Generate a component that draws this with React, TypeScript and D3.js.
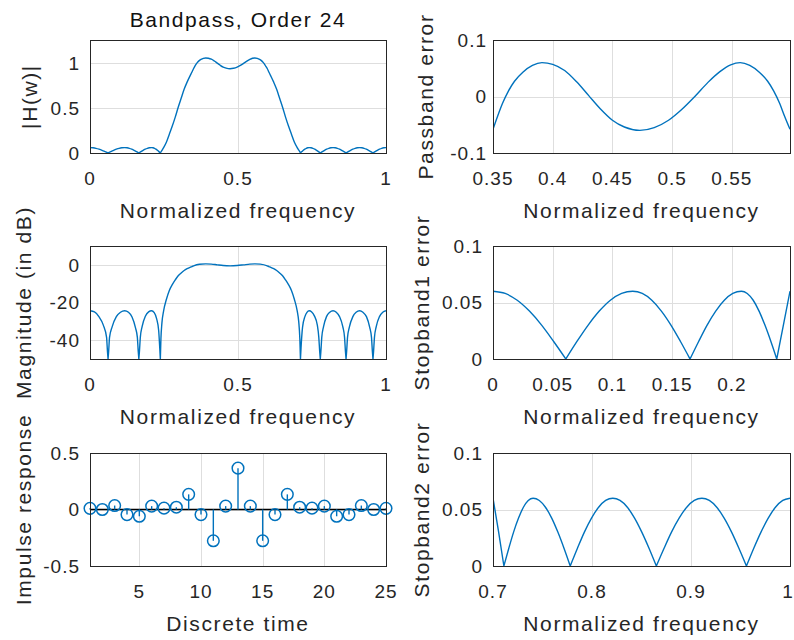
import * as d3 from "d3";

// impulse response (stem plot)
const impulseN = [1, 2, 3, 4, 5, 6, 7, 8, 9, 10, 11, 12, 13, 14, 15, 16, 17, 18, 19, 20, 21, 22, 23, 24, 25];
const impulseH = [0.01, 0.0, 0.035, -0.045, -0.06, 0.03, 0.012, 0.02, 0.134, -0.045, -0.277, 0.03, 0.366, 0.03, -0.277, -0.045, 0.134, 0.02, 0.012, 0.03, -0.06, -0.045, 0.035, 0.0, 0.01];

// stopband 1 error |H|
const stop1Freq = [0, 0.0102, 0.0203, 0.0305, 0.0407, 0.0508, 0.061, 0.0703, 0.0797, 0.089, 0.0983, 0.1077, 0.117, 0.125, 0.133, 0.141, 0.149, 0.157, 0.165, 0.1722, 0.1793, 0.1865, 0.1937, 0.2008, 0.208, 0.2129, 0.2179, 0.2228, 0.2277, 0.2327, 0.2376, 0.243, 0.2487];
const stop1Err = [0.06, 0.058, 0.052, 0.0424, 0.03, 0.0155, 0, 0.0155, 0.03, 0.0424, 0.052, 0.058, 0.06, 0.058, 0.052, 0.0424, 0.03, 0.0155, 0, 0.0155, 0.03, 0.0424, 0.052, 0.058, 0.06, 0.058, 0.052, 0.0424, 0.03, 0.0155, 0, 0.029, 0.06];

// passband error |H| - 1
const passFreq = [0.35, 0.354, 0.358, 0.363, 0.368, 0.375, 0.383, 0.391, 0.4, 0.41, 0.42, 0.43, 0.44, 0.45, 0.46, 0.473, 0.485, 0.497, 0.508, 0.519, 0.53, 0.54, 0.549, 0.557, 0.565, 0.573, 0.58, 0.585, 0.59, 0.594, 0.5987];
const passErr = [-0.058, -0.034, -0.012, 0.01, 0.027, 0.043, 0.055, 0.06, 0.057, 0.046, 0.026, 0.002, -0.022, -0.042, -0.054, -0.06, -0.055, -0.042, -0.023, 0, 0.025, 0.044, 0.056, 0.06, 0.055, 0.043, 0.027, 0.01, -0.012, -0.034, -0.058];

// stopband 2 error |H|
const stop2Freq = [0.7, 0.7055, 0.711, 0.7159, 0.7208, 0.7258, 0.7307, 0.7356, 0.7405, 0.7468, 0.753, 0.7593, 0.7655, 0.7718, 0.778, 0.7852, 0.7923, 0.7995, 0.8067, 0.8138, 0.821, 0.8283, 0.8357, 0.843, 0.8503, 0.8577, 0.865, 0.8727, 0.8803, 0.888, 0.8957, 0.9033, 0.911, 0.9185, 0.926, 0.9335, 0.941, 0.9485, 0.956, 0.9633, 0.9707, 0.978, 0.9853, 0.9927, 1.0];
const stop2Err = [0.06, 0.031, 0, 0.0155, 0.03, 0.0424, 0.052, 0.058, 0.06, 0.058, 0.052, 0.0424, 0.03, 0.0155, 0, 0.0155, 0.03, 0.0424, 0.052, 0.058, 0.06, 0.058, 0.052, 0.0424, 0.03, 0.0155, 0, 0.0155, 0.03, 0.0424, 0.052, 0.058, 0.06, 0.058, 0.052, 0.0424, 0.03, 0.0155, 0, 0.0155, 0.03, 0.0424, 0.052, 0.058, 0.06];

// transition bands |H|
const riseFreq = [0.258, 0.268, 0.278, 0.288, 0.298, 0.308, 0.318, 0.328, 0.338, 0.344];
const riseMag = [0.12, 0.21, 0.3, 0.4, 0.51, 0.61, 0.71, 0.79, 0.86, 0.9];
const fallFreq = [0.6046, 0.6106, 0.6206, 0.6306, 0.6406, 0.6506, 0.6606, 0.6706, 0.6806, 0.6906];
const fallMag = [0.9, 0.86, 0.79, 0.71, 0.61, 0.51, 0.4, 0.3, 0.21, 0.12];

// magnitude in dB
const dbFreq = [0, 0.015, 0.03, 0.045, 0.056, 0.059, 0.061, 0.063, 0.066, 0.075, 0.089, 0.103, 0.117, 0.13, 0.142, 0.154, 0.16, 0.163, 0.165, 0.167, 0.17, 0.176, 0.187, 0.198, 0.208, 0.217, 0.225, 0.232, 0.2356, 0.2376, 0.2396, 0.243, 0.2487, 0.258, 0.268, 0.278, 0.288, 0.298, 0.308, 0.318, 0.328, 0.338, 0.344, 0.35, 0.37, 0.391, 0.41, 0.43, 0.45, 0.473, 0.497, 0.519, 0.54, 0.557, 0.575, 0.5987, 0.6046, 0.6106, 0.6206, 0.6306, 0.6406, 0.6506, 0.6606, 0.6706, 0.6806, 0.6906, 0.7, 0.705, 0.709, 0.711, 0.713, 0.718, 0.726, 0.733, 0.7405, 0.749, 0.758, 0.768, 0.773, 0.776, 0.778, 0.78, 0.783, 0.789, 0.799, 0.81, 0.821, 0.832, 0.843, 0.854, 0.86, 0.863, 0.865, 0.867, 0.87, 0.876, 0.888, 0.899, 0.911, 0.922, 0.934, 0.945, 0.951, 0.954, 0.956, 0.958, 0.961, 0.967, 0.978, 0.989, 1.0];
const dbVals = [-24.4, -25.0, -27.5, -32.0, -38.5, -46, -50, -46, -38.5, -32.8, -27.5, -25.2, -24.4, -25.2, -27.7, -33.6, -38.5, -46, -50, -46, -38.5, -32.8, -27.3, -25.0, -24.4, -25.4, -28.6, -34.9, -44, -50, -39.3, -30.8, -24.4, -18.4, -13.6, -10.5, -8.0, -5.8, -4.3, -3.0, -2.05, -1.3, -0.92, -0.52, 0.3, 0.5, 0.4, 0, -0.37, -0.54, -0.37, 0, 0.37, 0.5, 0.35, -0.52, -0.92, -1.3, -2.05, -3.0, -4.3, -5.8, -8.0, -10.5, -13.6, -18.4, -24.4, -29.9, -39.5, -50, -44, -33.2, -27.5, -25.2, -24.4, -25.0, -27.1, -32.0, -38.5, -46, -50, -46, -38.5, -32.8, -27.5, -25.2, -24.4, -25.2, -27.5, -32.8, -38.5, -46, -50, -46, -38.5, -33.2, -27.5, -25.2, -24.4, -25.2, -27.5, -33.2, -38.5, -46, -50, -46, -38.5, -32.8, -27.5, -25.2, -24.4];

// tick values and labels
const freqTicks = [0, 0.5, 1];
const freqTickLabels = ["0", "0.5", "1"];
const magTicks = [0, 0.5, 1];
const magTickLabels = ["0", "0.5", "1"];
const passTicks = [0.35, 0.4, 0.45, 0.5, 0.55];
const passTickLabels = ["0.35", "0.4", "0.45", "0.5", "0.55"];
const errTicks = [-0.1, 0, 0.1];
const errTickLabels = ["-0.1", "0", "0.1"];
const dbTicks = [-40, -20, 0];
const dbTickLabels = ["-40", "-20", "0"];
const stop1Ticks = [0, 0.05, 0.1, 0.15, 0.2];
const stop1TickLabels = ["0", "0.05", "0.1", "0.15", "0.2"];
const stopYTicks = [0, 0.05, 0.1];
const stopYTickLabels = ["0", "0.05", "0.1"];
const timeTicks = [5, 10, 15, 20, 25];
const timeTickLabels = ["5", "10", "15", "20", "25"];
const impTicks = [-0.5, 0, 0.5];
const impTickLabels = ["-0.5", "0", "0.5"];
const stop2Ticks = [0.7, 0.8, 0.9, 1];
const stop2TickLabels = ["0.7", "0.8", "0.9", "1"];

const FONT = "'Liberation Sans', Arial, Helvetica, sans-serif";
const TEXT = "#262626";
const BLUE = "#0072BD";
const GRID = "#dedede";

const colX = [[90, 386], [493, 790]];
const rowY = [[40, 153], [246, 359], [453, 566]];

type Pt = [number, number];

const zip = (xs: number[], ys: number[]): Pt[] => xs.map((x, i) => [x, ys[i]] as Pt);

// break a series at its nulls so the V-shaped dips stay sharp
function splitAtNulls(pts: Pt[], isNull: (v: number) => boolean): Pt[][] {
  const segs: Pt[][] = [];
  let cur: Pt[] = [];
  pts.forEach((p) => {
    cur.push(p);
    if (isNull(p[1]) && cur.length > 1) {
      segs.push(cur);
      cur = [p];
    }
  });
  if (cur.length > 1) segs.push(cur);
  return segs;
}

function curvePath(pts: Pt[], x: any, y: any, isNull?: (v: number) => boolean) {
  const line = d3
    .line<Pt>()
    .x((d) => x(d[0]))
    .y((d) => y(d[1]))
    .curve(d3.curveMonotoneX);
  const segs = isNull ? splitAtNulls(pts, isNull) : [pts];
  return segs.map((s) => line(s)).join("");
}

const tickFont = { fontFamily: FONT, fontSize: 19, letterSpacing: 1, fill: TEXT };
const labelFont = { fontFamily: FONT, fontSize: 21, letterSpacing: 1.6, fill: TEXT };

function Axes(props: any) {
  const { col, row, xDomain, yDomain, xTicks, xTickLabels, yTicks, yTickLabels, xLabel, yLabel, yLabelX, yGap, id, draw } = props;
  const [x0, x1] = colX[col];
  const [y0, y1] = rowY[row];
  const x = d3.scaleLinear().domain(xDomain).range([x0, x1]);
  const y = d3.scaleLinear().domain(yDomain).range([y1, y0]);
  const inside = (v: number, s: any) => Math.abs(s(v) - s.range()[0]) > 1 && Math.abs(s(v) - s.range()[1]) > 1;
  return (
    <g>
      <defs>
        <clipPath id={id}>
          <rect x={x0} y={y0 - 1} width={x1 - x0} height={y1 - y0 + 2} />
        </clipPath>
      </defs>
      <rect x={x0} y={y0} width={x1 - x0} height={y1 - y0} fill="#fff" />
      {xTicks.filter((t: number) => inside(t, x)).map((t: number) => (
        <line key={"gx" + t} x1={Math.round(x(t)) + 0.5} x2={Math.round(x(t)) + 0.5} y1={y0} y2={y1} stroke={GRID} strokeWidth={1} />
      ))}
      {yTicks.filter((t: number) => inside(t, y)).map((t: number) => (
        <line key={"gy" + t} x1={x0} x2={x1} y1={Math.round(y(t)) + 0.5} y2={Math.round(y(t)) + 0.5} stroke={GRID} strokeWidth={1} />
      ))}
      {draw(x, y, id)}
      <rect x={x0 + 0.5} y={y0 + 0.5} width={x1 - x0} height={y1 - y0} fill="none" stroke={TEXT} strokeWidth={1} />
      {xTicks.map((t: number, i: number) => (
        <text key={"tx" + t} x={Math.min(x(t), 788)} y={y1 + 32} textAnchor="middle" {...tickFont}>
          {xTickLabels[i]}
        </text>
      ))}
      {yTicks.map((t: number, i: number) => (
        <text key={"ty" + t} x={x0 - yGap} y={y(t)} dy="0.36em" textAnchor="end" {...tickFont}>
          {yTickLabels[i]}
        </text>
      ))}
      <text x={(x0 + x1) / 2} y={y1 + 65} textAnchor="middle" {...labelFont}>
        {xLabel}
      </text>
      <text transform={`translate(${yLabelX},${(y0 + y1) / 2}) rotate(-90)`} textAnchor="middle" {...labelFont}>
        {yLabel}
      </text>
    </g>
  );
}

const magSeries: Pt[] = [
  ...zip(stop1Freq, stop1Err),
  ...zip(riseFreq, riseMag),
  ...zip(passFreq, passErr.map((e) => 1 + e)),
  ...zip(fallFreq, fallMag),
  ...zip(stop2Freq, stop2Err),
];

export default function App() {
  const lineProps = { fill: "none", stroke: BLUE, strokeWidth: 1.4, strokeLinejoin: "round" as const };
  return (
    <svg width={794} height={640} style={{ display: "block", position: "absolute", left: 0, top: 0, background: "#fff" }}>
      <rect width={794} height={640} fill="#fff" />
      <text x={238} y={27} textAnchor="middle" {...labelFont} fill="#111">
        Bandpass, Order 24
      </text>

      <Axes
        id="c1" col={0} row={0} xDomain={[0, 1]} yDomain={[0, 1.26]}
        xTicks={freqTicks} xTickLabels={freqTickLabels} yTicks={magTicks} yTickLabels={magTickLabels}
        xLabel="Normalized frequency" yLabel="|H(w)|" yLabelX={37} yGap={10}
        draw={(x: any, y: any, id: string) => (
          <path d={curvePath(magSeries, x, y, (v) => v === 0)} clipPath={`url(#${id})`} {...lineProps} />
        )}
      />

      <Axes
        id="c2" col={1} row={0} xDomain={[0.35, 0.5987]} yDomain={[-0.1, 0.1]}
        xTicks={passTicks} xTickLabels={passTickLabels} yTicks={errTicks} yTickLabels={errTickLabels}
        xLabel="Normalized frequency" yLabel="Passband error" yLabelX={433} yGap={6}
        draw={(x: any, y: any, id: string) => (
          <path d={curvePath(zip(passFreq, passErr), x, y)} clipPath={`url(#${id})`} {...lineProps} />
        )}
      />

      <Axes
        id="c3" col={0} row={1} xDomain={[0, 1]} yDomain={[-50, 10]}
        xTicks={freqTicks} xTickLabels={freqTickLabels} yTicks={dbTicks} yTickLabels={dbTickLabels}
        xLabel="Normalized frequency" yLabel="Magnitude (in dB)" yLabelX={31} yGap={10}
        draw={(x: any, y: any, id: string) => (
          <path d={curvePath(zip(dbFreq, dbVals), x, y, (v) => v <= -50)} clipPath={`url(#${id})`} {...lineProps} />
        )}
      />

      <Axes
        id="c4" col={1} row={1} xDomain={[0, 0.2487]} yDomain={[0, 0.1]}
        xTicks={stop1Ticks} xTickLabels={stop1TickLabels} yTicks={stopYTicks} yTickLabels={stopYTickLabels}
        xLabel="Normalized frequency" yLabel="Stopband1 error" yLabelX={429} yGap={10}
        draw={(x: any, y: any, id: string) => (
          <path d={curvePath(zip(stop1Freq, stop1Err), x, y, (v) => v === 0)} clipPath={`url(#${id})`} {...lineProps} />
        )}
      />

      <Axes
        id="c5" col={0} row={2} xDomain={[1, 25]} yDomain={[-0.5, 0.5]}
        xTicks={timeTicks} xTickLabels={timeTickLabels} yTicks={impTicks} yTickLabels={impTickLabels}
        xLabel="Discrete time" yLabel="Impulse response" yLabelX={31} yGap={10}
        draw={(x: any, y: any) => (
          <g>
            <line x1={x(1)} x2={x(25)} y1={y(0)} y2={y(0)} stroke="#000" strokeWidth={1.3} />
            {impulseN.map((n, i) => (
              <g key={n}>
                <line x1={x(n)} x2={x(n)} y1={y(0)} y2={y(impulseH[i])} stroke={BLUE} strokeWidth={1.4} />
                <circle cx={x(n)} cy={y(impulseH[i])} r={5.8} fill="none" stroke={BLUE} strokeWidth={1.5} />
              </g>
            ))}
          </g>
        )}
      />

      <Axes
        id="c6" col={1} row={2} xDomain={[0.7, 1]} yDomain={[0, 0.1]}
        xTicks={stop2Ticks} xTickLabels={stop2TickLabels} yTicks={stopYTicks} yTickLabels={stopYTickLabels}
        xLabel="Normalized frequency" yLabel="Stopband2 error" yLabelX={429} yGap={10}
        draw={(x: any, y: any, id: string) => (
          <path d={curvePath(zip(stop2Freq, stop2Err), x, y, (v) => v === 0)} clipPath={`url(#${id})`} {...lineProps} />
        )}
      />
    </svg>
  );
}
